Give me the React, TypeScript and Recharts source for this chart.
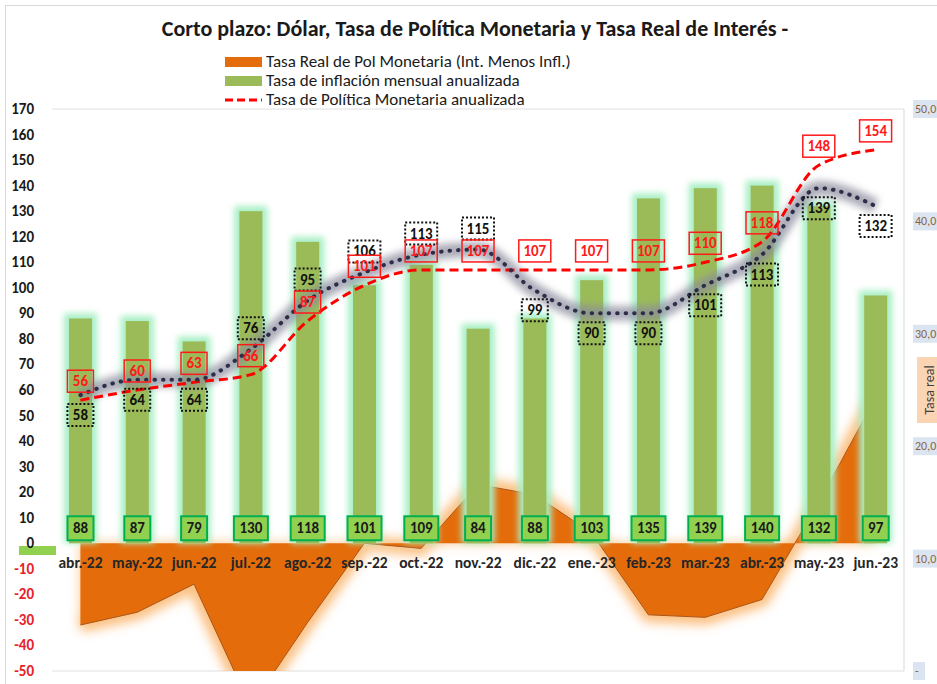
import React from 'react';
import { ComposedChart, Area, Bar, Line, XAxis, YAxis, CartesianGrid, LabelList } from 'recharts';

const FONT = "Calibri, Carlito, 'Liberation Sans Narrow', 'DejaVu Sans Condensed', Roboto, sans-serif";

const titulo = 'Corto plazo: Dólar, Tasa de Política Monetaria y Tasa Real de Interés -';
const serieReal = 'Tasa Real de Pol Monetaria (Int. Menos Infl.)';
const serieInflacion = 'Tasa de inflación mensual anualizada';
const seriePolitica = 'Tasa de Política Monetaria anualizada';

const meses = ['abr.-22', 'may.-22', 'jun.-22', 'jul.-22', 'ago.-22', 'sep.-22', 'oct.-22', 'nov.-22', 'dic.-22', 'ene.-23', 'feb.-23', 'mar.-23', 'abr.-23', 'may.-23', 'jun.-23'];
const inflacion = [88, 87, 79, 130, 118, 101, 109, 84, 88, 103, 135, 139, 140, 132, 97];
const tasaPolitica = [56, 60, 63, 66, 87, 101, 107, 107, 107, 107, 107, 110, 118, 148, 154];
const dolar = [58, 64, 64, 76, 95, 106, 113, 115, 99, 90, 90, 101, 113, 139, 132];
const tasaReal = [-32, -27, -16, -64, -31, 0, -2, 23, 19, 4, -28, -29, -22, 16, 57];
const ticksIzq = [-50, -40, -30, -20, -10, 0, 10, 20, 30, 40, 50, 60, 70, 80, 90, 100, 110, 120, 130, 140, 150, 160, 170];
const ticksDer = [0, 10, 20, 30, 40, 50];

// true = etiqueta del dólar sobre la línea
const dolarArriba = [false, false, false, true, true, true, true, true, false, false, false, false, false, false, false];

const data = meses.map((mes, i) => ({
  mes,
  inflacion: inflacion[i],
  tasaPolitica: tasaPolitica[i],
  dolar: dolar[i],
  tasaReal: tasaReal[i],
}));

const pos = (p: any) => {
  const vb = p.viewBox || {};
  return {
    x: vb.x ?? p.x,
    y: vb.y ?? p.y,
    width: vb.width ?? p.width ?? 0,
    height: vb.height ?? p.height ?? 0,
  };
};

const boxW = (v: any) => (String(v).length > 2 ? 32 : 26);

const LabelPolitica = (p: any) => {
  const { x, y } = pos(p);
  const w = boxW(p.value);
  const cy = y - 19;
  return (
    <g>
      <rect x={x - w / 2} y={cy - 11} width={w} height={22} fill="none" stroke="#ff1a1a" strokeWidth={1.5} />
      <text x={x} y={cy + 5} textAnchor="middle" fontSize={15} fontWeight="bold" fill="#ff1a1a" fontFamily={FONT}>
        {p.value}
      </text>
    </g>
  );
};

const LabelDolar = (p: any) => {
  const { x, y } = pos(p);
  const w = boxW(p.value);
  const cy = dolarArriba[p.index] ? y - 21 : y + 20;
  return (
    <g>
      <rect x={x - w / 2} y={cy - 11} width={w} height={22} fill="none" stroke="#111" strokeWidth={2} strokeDasharray="2 2" />
      <text x={x} y={cy + 5} textAnchor="middle" fontSize={15} fontWeight="bold" fill="#111" fontFamily={FONT}>
        {p.value}
      </text>
    </g>
  );
};

const LabelInflacion = (p: any) => {
  const { x, y, width, height } = pos(p);
  const cx = x + width / 2;
  const y0 = y + height;
  const w = String(p.value).length > 2 ? 34 : 26;
  return (
    <g>
      <rect x={cx - w / 2} y={y0 - 27} width={w} height={24} fill="#92d050" stroke="#00b050" strokeWidth={2} />
      <text x={cx} y={y0 - 10} textAnchor="middle" fontSize={15} fontWeight="bold" fill="#1a1a1a" fontFamily={FONT}>
        {p.value}
      </text>
    </g>
  );
};

const LabelMes = (p: any) => {
  const { x, y, width, height } = pos(p);
  return (
    <text x={x + width / 2} y={y + height + 25} textAnchor="middle" fontSize={15.5} fontWeight="bold" fill="#262626" fontFamily={FONT}>
      {p.value}
    </text>
  );
};

const BarraInflacion = (p: any) => (
  <g>
    <rect x={p.x - 5} y={p.y - 5} width={p.width + 10} height={p.height + 5} fill="#a8efc4" filter="url(#glowVerde)" />
    <rect x={p.x} y={p.y} width={p.width} height={p.height} fill="#9bbb59" />
  </g>
);

const TickIzq = (p: any) => {
  const v = p.payload.value;
  return (
    <text x={p.x} y={p.y + 5} textAnchor="end" fontSize={15} fontWeight="bold" fill={v < 0 ? '#e8202a' : '#1a1a1a'} fontFamily={FONT}>
      {v}
    </text>
  );
};

const TickDer = (p: any) => {
  const v = p.payload.value;
  const txt = v === 0 ? '-' : `${v},0`;
  const w = v === 0 ? 12 : 25;
  return (
    <g>
      <rect x={p.x + 9} y={p.y - 9} width={w} height={18} fill="#dbe5f1" />
      <text x={p.x + 11} y={p.y + 4} textAnchor="start" fontSize={12} fill="#8b6340" fontFamily={FONT}>
        {txt}
      </text>
    </g>
  );
};

const LabelTasaReal = (p: any) => {
  const vb = p.viewBox;
  const cx = vb.x + 25;
  const cy = vb.y + vb.height / 2;
  return (
    <g>
      <rect x={cx - 12} y={cy - 33} width={26} height={66} fill="#fbd4b4" />
      <text x={cx} y={cy} textAnchor="middle" dominantBaseline="central" transform={`rotate(-90 ${cx} ${cy})`} fontSize={14} fill="#404040" fontFamily={FONT}>
        Tasa real
      </text>
    </g>
  );
};

export default function App() {
  return (
    <div style={{ position: 'absolute', left: 0, top: 0, width: 937, height: 684, background: '#fff', overflow: 'hidden', fontFamily: FONT }}>
      <div style={{ position: 'absolute', left: 5, top: 5, width: 960, height: 700, border: '1px solid #d9d9d9' }} />
      <div style={{ position: 'absolute', left: 0, width: 950, top: 15, textAlign: 'center', fontSize: 22, fontWeight: 'bold', color: '#1a1a1a' }}>
        {titulo}
      </div>
      <div style={{ position: 'absolute', left: 225, top: 52, fontSize: 17, color: '#1a1a1a', lineHeight: '19px' }}>
        <div style={{ display: 'flex', alignItems: 'center' }}>
          <span style={{ width: 37, height: 10, background: '#e46c0a', marginRight: 4, display: 'inline-block' }} />
          {serieReal}
        </div>
        <div style={{ display: 'flex', alignItems: 'center' }}>
          <span style={{ width: 37, height: 10, background: '#9bbb59', marginRight: 4, display: 'inline-block' }} />
          {serieInflacion}
        </div>
        <div style={{ display: 'flex', alignItems: 'center' }}>
          <svg width={37} height={10} style={{ marginRight: 4 }}>
            <line x1={0} y1={5} x2={37} y2={5} stroke="#ff0000" strokeWidth={3} strokeDasharray="8 4" />
          </svg>
          {seriePolitica}
        </div>
      </div>
      <div style={{ position: 'absolute', left: 19, top: 546, width: 37, height: 9, background: '#92d050' }} />
      <div style={{ position: 'absolute', left: 0, top: 0 }}>
        <ComposedChart width={937} height={684} data={data} margin={{ top: 109, right: 0, bottom: 13, left: 8 }} barSize={23}>
          <defs>
            <filter id="glowVerde" x="-50%" y="-20%" width="200%" height="140%">
              <feGaussianBlur stdDeviation="3" />
            </filter>
            <filter id="glowNaranja" x="-20%" y="-20%" width="140%" height="140%">
              <feGaussianBlur stdDeviation="6" />
            </filter>
            <filter id="glowGris" x="-10%" y="-30%" width="120%" height="160%">
              <feGaussianBlur stdDeviation="3.5" />
            </filter>
          </defs>
          <CartesianGrid vertical={false} stroke="#e0e0e0" />
          <XAxis dataKey="mes" hide />
          <YAxis
            yAxisId="izq"
            domain={[-50, 170]}
            ticks={ticksIzq}
            allowDataOverflow
            width={44}
            axisLine={false}
            tickLine={false}
            tickSize={0}
            tickMargin={18}
            tick={<TickIzq />}
            interval={0}
          />
          <YAxis
            yAxisId="der"
            type="number"
            orientation="right"
            domain={[0, 50]}
            ticks={ticksDer}
            allowDataOverflow
            width={33}
            axisLine={{ stroke: '#d9d9d9' }}
            tickLine={false}
            tickSize={0}
            tickMargin={0}
            tick={TickDer}
            interval={0}
            label={<LabelTasaReal />}
          />
          <Area
            yAxisId="izq"
            dataKey="tasaReal"
            type="linear"
            baseValue={0}
            fill="#fbbf80"
            fillOpacity={0.9}
            stroke="#fbbf80"
            strokeWidth={14}
            filter="url(#glowNaranja)"
            isAnimationActive={false}
            dot={false}
            activeDot={false}
          />
          <Area
            yAxisId="izq"
            dataKey="tasaReal"
            name={serieReal}
            type="linear"
            baseValue={0}
            fill="#e46c0a"
            fillOpacity={1}
            stroke="#a9551a"
            strokeWidth={1}
            isAnimationActive={false}
            dot={false}
            activeDot={false}
          />
          <Bar yAxisId="izq" dataKey="inflacion" name={serieInflacion} shape={<BarraInflacion />} isAnimationActive={false}>
            <LabelList dataKey="inflacion" content={<LabelInflacion />} />
            <LabelList dataKey="mes" content={<LabelMes />} />
          </Bar>
          <Line
            yAxisId="izq"
            dataKey="dolar"
            type="monotone"
            stroke="#8a8a9c"
            strokeWidth={15}
            strokeOpacity={0.7}
            filter="url(#glowGris)"
            dot={false}
            activeDot={false}
            isAnimationActive={false}
          />
          <Line
            yAxisId="izq"
            dataKey="tasaPolitica"
            name={seriePolitica}
            type="monotone"
            stroke="#ff0000"
            strokeWidth={3}
            strokeDasharray="9 5"
            dot={false}
            activeDot={false}
            isAnimationActive={false}
          />
          <Line
            yAxisId="izq"
            dataKey="dolar"
            type="monotone"
            stroke="#2e2e4a"
            strokeWidth={4}
            strokeDasharray="0.5 8"
            strokeLinecap="round"
            dot={false}
            activeDot={false}
            isAnimationActive={false}
          >
            <LabelList dataKey="dolar" content={<LabelDolar />} />
          </Line>
          <Line
            yAxisId="izq"
            dataKey="tasaPolitica"
            type="monotone"
            stroke="none"
            dot={false}
            activeDot={false}
            isAnimationActive={false}
          >
            <LabelList dataKey="tasaPolitica" content={<LabelPolitica />} />
          </Line>
        </ComposedChart>
      </div>
    </div>
  );
}
